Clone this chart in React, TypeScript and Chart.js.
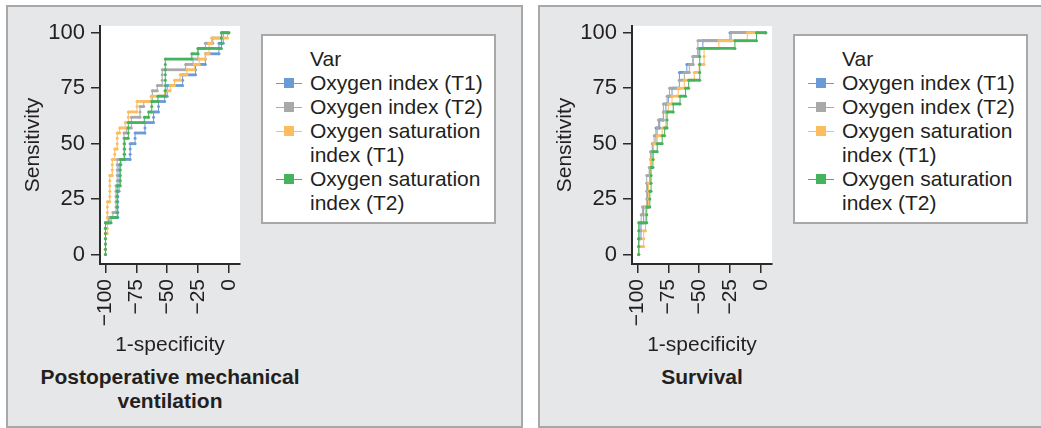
import React, { useEffect, useRef } from 'react';
import { Chart, registerables } from 'chart.js';

Chart.register(...registerables);

const FONT = "'Liberation Sans', Arial, Helvetica, sans-serif";
const TEXT = '#231f20';
const AXIS = '#2b2b2b';

const seriesNames = ['Oxygen index (T1)', 'Oxygen index (T2)', 'Oxygen saturation index (T1)', 'Oxygen saturation index (T2)'];
const legendLines = [['Oxygen index (T1)'], ['Oxygen index (T2)'], ['Oxygen saturation', 'index (T1)'], ['Oxygen saturation', 'index (T2)']];
const legendTitle = 'Var';
const seriesColors = ['#6b9bd6', '#a8a9ab', '#fcbd5e', '#45b35b'];
const xTickValues = [-100, -75, -50, -25, 0];
const yTickValues = [0, 25, 50, 75, 100];
const xAxisTitle = '1-specificity';
const yAxisTitle = 'Sensitivity';
const panelTitles = [['Postoperative mechanical', 'ventilation'], ['Survival']];

// Panel 1: Postoperative mechanical ventilation  ([x, sensitivity])
const ventOxygenIndexT1 = [
  [-100, 0], [-100, 2.4], [-100, 4.8], [-100, 7.1], [-100, 9.5], [-100, 11.9], [-100, 14.3],
  [-97.5, 14.3], [-97.5, 16.7],
  [-90, 16.7], [-90, 19.0], [-90, 21.4], [-90, 23.8], [-90, 26.2], [-90, 28.6],
  [-89, 28.6], [-89, 31.0], [-89, 33.3], [-89, 35.7], [-89, 38.1], [-89, 40.5],
  [-87.5, 40.5], [-87.5, 42.9],
  [-80, 42.9], [-80, 45.2], [-80, 47.6], [-80, 50.0],
  [-76, 50.0], [-76, 52.4], [-76, 54.8],
  [-68, 54.8], [-68, 57.1], [-68, 59.5],
  [-61, 59.5], [-61, 61.9], [-61, 64.3],
  [-57, 64.3], [-57, 66.7], [-57, 69.0],
  [-52, 69.0], [-52, 71.4],
  [-50, 71.4], [-50, 73.8], [-50, 76.2],
  [-37.5, 76.2], [-37.5, 78.6], [-37.5, 81.0],
  [-27, 81.0], [-27, 83.3], [-27, 85.7],
  [-19, 85.7], [-19, 88.1], [-19, 90.5],
  [-8, 90.5], [-8, 92.9], [-8, 95.2],
  [-4.5, 95.2], [-4.5, 97.6], [-4.5, 100],
  [0, 100],
];
const ventOxygenIndexT2 = [
  [-100, 0], [-100, 2.4], [-100, 4.8], [-100, 7.1], [-100, 9.5], [-100, 11.9], [-100, 14.3],
  [-97, 14.3], [-97, 16.7],
  [-94, 16.7], [-94, 19.0],
  [-91.5, 19.0], [-91.5, 21.4], [-91.5, 23.8], [-91.5, 26.2], [-91.5, 28.6], [-91.5, 31.0],
  [-90.5, 31.0], [-90.5, 33.3], [-90.5, 35.7], [-90.5, 38.1], [-90.5, 40.5], [-90.5, 42.9],
  [-85, 42.9], [-85, 45.2], [-85, 47.6], [-85, 50.0], [-85, 52.4], [-85, 54.8],
  [-83, 54.8], [-83, 57.1],
  [-79, 57.1], [-79, 59.5], [-79, 61.9],
  [-72, 61.9], [-72, 64.3], [-72, 66.7],
  [-69, 66.7], [-69, 69.0],
  [-62, 69.0], [-62, 71.4], [-62, 73.8],
  [-58, 73.8], [-58, 76.2],
  [-54, 76.2], [-54, 78.6], [-54, 81.0], [-54, 83.3],
  [-35, 83.3], [-35, 85.7],
  [-29, 85.7], [-29, 88.1],
  [-25, 88.1], [-25, 90.5], [-25, 92.9],
  [-19, 92.9], [-19, 95.2],
  [-13, 95.2], [-13, 97.6],
  [-6, 97.6], [-6, 100],
  [0, 100],
];
const ventSatIndexT1 = [
  [-100, 0], [-100, 2.4], [-100, 4.8], [-100, 7.1], [-100, 9.5],
  [-98.5, 9.5], [-98.5, 11.9], [-98.5, 14.3], [-98.5, 16.7], [-98.5, 19.0], [-98.5, 21.4], [-98.5, 23.8],
  [-96.5, 23.8], [-96.5, 26.2], [-96.5, 28.6], [-96.5, 31.0], [-96.5, 33.3], [-96.5, 35.7],
  [-94.5, 35.7], [-94.5, 38.1], [-94.5, 40.5], [-94.5, 42.9],
  [-92.5, 42.9], [-92.5, 45.2], [-92.5, 47.6],
  [-90.5, 47.6], [-90.5, 50.0], [-90.5, 52.4], [-90.5, 54.8],
  [-88.5, 54.8], [-88.5, 57.1],
  [-84, 57.1], [-84, 59.5],
  [-81.5, 59.5], [-81.5, 61.9], [-81.5, 64.3],
  [-74.5, 64.3], [-74.5, 66.7], [-74.5, 69.0],
  [-63, 69.0], [-63, 71.4],
  [-52, 71.4], [-52, 73.8],
  [-47.5, 73.8], [-47.5, 76.2],
  [-44, 76.2], [-44, 78.6],
  [-39.5, 78.6], [-39.5, 81.0],
  [-34, 81.0], [-34, 83.3],
  [-28, 83.3], [-28, 85.7],
  [-24, 85.7], [-24, 88.1],
  [-19, 88.1], [-19, 90.5],
  [-16, 90.5], [-16, 92.9], [-16, 95.2],
  [-14, 95.2], [-14, 97.6],
  [-1, 97.6], [-1, 100],
  [0, 100],
];
const ventSatIndexT2 = [
  [-100, 0], [-100, 2.4], [-100, 4.8], [-100, 7.1], [-100, 9.5], [-100, 11.9], [-100, 14.3],
  [-95.5, 14.3], [-95.5, 16.7],
  [-90.5, 16.7], [-90.5, 19.0], [-90.5, 21.4], [-90.5, 23.8], [-90.5, 26.2], [-90.5, 28.6], [-90.5, 31.0],
  [-88, 31.0], [-88, 33.3], [-88, 35.7], [-88, 38.1], [-88, 40.5], [-88, 42.9],
  [-84.5, 42.9], [-84.5, 45.2], [-84.5, 47.6], [-84.5, 50.0], [-84.5, 52.4],
  [-81.5, 52.4], [-81.5, 54.8], [-81.5, 57.1], [-81.5, 59.5],
  [-68.5, 59.5], [-68.5, 61.9],
  [-65, 61.9], [-65, 64.3],
  [-62.5, 64.3], [-62.5, 66.7], [-62.5, 69.0],
  [-57.5, 69.0], [-57.5, 71.4],
  [-51.5, 71.4], [-51.5, 73.8], [-51.5, 76.2], [-51.5, 78.6], [-51.5, 81.0], [-51.5, 83.3], [-51.5, 85.7], [-51.5, 88.1],
  [-30, 88.1], [-30, 90.5],
  [-25, 90.5], [-25, 92.9],
  [-6, 92.9], [-6, 95.2], [-6, 97.6], [-6, 100],
  [0, 100],
];

// Panel 2: Survival  ([x, sensitivity])
const survOxygenIndexT1 = [
  [-99, 0], [-99, 3.6], [-99, 7.1],
  [-98, 7.1], [-98, 10.7], [-98, 14.3],
  [-95, 14.3], [-95, 17.9], [-95, 21.4],
  [-92, 21.4], [-92, 25.0], [-92, 28.6], [-92, 32.1],
  [-90, 32.1], [-90, 35.7], [-90, 39.3],
  [-89, 39.3], [-89, 42.9], [-89, 46.4],
  [-87.5, 46.4], [-87.5, 50.0],
  [-85, 50.0], [-85, 53.6], [-85, 57.1],
  [-82, 57.1], [-82, 60.7],
  [-79, 60.7], [-79, 64.3],
  [-77, 64.3], [-77, 67.9],
  [-75, 67.9], [-75, 71.4],
  [-72, 71.4], [-72, 75.0],
  [-66, 75.0], [-66, 78.6], [-66, 82.1],
  [-60, 82.1], [-60, 85.7],
  [-55, 85.7], [-55, 89.3],
  [-51, 89.3], [-51, 92.9],
  [-47, 92.9], [-47, 96.4],
  [-25, 96.4], [-25, 100],
  [4, 100],
];
const survOxygenIndexT2 = [
  [-99, 0], [-99, 3.6], [-99, 7.1],
  [-97, 7.1], [-97, 10.7], [-97, 14.3], [-97, 17.9],
  [-96, 17.9], [-96, 21.4],
  [-92.5, 21.4], [-92.5, 25.0], [-92.5, 28.6], [-92.5, 32.1], [-92.5, 35.7],
  [-90.5, 35.7], [-90.5, 39.3],
  [-89.5, 39.3], [-89.5, 42.9], [-89.5, 46.4],
  [-88, 46.4], [-88, 50.0],
  [-86.5, 50.0], [-86.5, 53.6],
  [-84, 53.6], [-84, 57.1],
  [-83, 57.1], [-83, 60.7],
  [-79, 60.7], [-79, 64.3], [-79, 67.9],
  [-76, 67.9], [-76, 71.4],
  [-74, 71.4], [-74, 75.0],
  [-66, 75.0], [-66, 78.6],
  [-62, 78.6], [-62, 82.1],
  [-58, 82.1], [-58, 85.7],
  [-55, 85.7], [-55, 89.3],
  [-51, 89.3], [-51, 92.9], [-51, 96.4],
  [-24, 96.4], [-24, 100],
  [4, 100],
];
const survSatIndexT1 = [
  [-99, 0], [-99, 3.6],
  [-95, 3.6], [-95, 7.1], [-95, 10.7],
  [-93.5, 10.7], [-93.5, 14.3], [-93.5, 17.9], [-93.5, 21.4],
  [-91, 21.4], [-91, 25.0], [-91, 28.6], [-91, 32.1],
  [-89.5, 32.1], [-89.5, 35.7], [-89.5, 39.3], [-89.5, 42.9],
  [-87, 42.9], [-87, 46.4], [-87, 50.0],
  [-84, 50.0], [-84, 53.6],
  [-80, 53.6], [-80, 57.1],
  [-77, 57.1], [-77, 60.7], [-77, 64.3],
  [-75, 64.3], [-75, 67.9],
  [-72, 67.9], [-72, 71.4],
  [-67, 71.4], [-67, 75.0],
  [-62, 75.0], [-62, 78.6],
  [-54, 78.6], [-54, 82.1],
  [-50, 82.1], [-50, 85.7],
  [-46, 85.7], [-46, 89.3], [-46, 92.9],
  [-34, 92.9], [-34, 96.4],
  [-11, 96.4], [-11, 100],
  [4, 100],
];
const survSatIndexT2 = [
  [-99, 0], [-99, 3.6], [-99, 7.1], [-99, 10.7], [-99, 14.3],
  [-92.5, 14.3], [-92.5, 17.9], [-92.5, 21.4],
  [-90, 21.4], [-90, 25.0], [-90, 28.6],
  [-89, 28.6], [-89, 32.1], [-89, 35.7], [-89, 39.3],
  [-87.5, 39.3], [-87.5, 42.9], [-87.5, 46.4],
  [-84, 46.4], [-84, 50.0],
  [-80, 50.0], [-80, 53.6],
  [-78, 53.6], [-78, 57.1],
  [-76, 57.1], [-76, 60.7], [-76, 64.3],
  [-71, 64.3], [-71, 67.9],
  [-65.5, 67.9], [-65.5, 71.4],
  [-61, 71.4], [-61, 75.0],
  [-58.5, 75.0], [-58.5, 78.6],
  [-49.5, 78.6], [-49.5, 82.1], [-49.5, 85.7], [-49.5, 89.3], [-49.5, 92.9],
  [-21, 92.9], [-21, 96.4],
  [-3.5, 96.4], [-3.5, 100],
  [4, 100],
];

const panelSeries = [
  [ventOxygenIndexT1, ventOxygenIndexT2, ventSatIndexT1, ventSatIndexT2],
  [survOxygenIndexT1, survOxygenIndexT2, survSatIndexT1, survSatIndexT2],
];

const fmtTick = (v: number) => (v < 0 ? '\u2212' + Math.abs(v) : String(v));

const whiteArea = {
  id: 'whiteArea',
  beforeDraw(chart: any) {
    const { ctx, chartArea: a } = chart;
    ctx.save();
    ctx.fillStyle = '#ffffff';
    ctx.fillRect(a.left, a.top, a.right - a.left, a.bottom - a.top);
    ctx.restore();
  },
};

function RocChart({ series, left }: { series: number[][][]; left: number }) {
  const ref = useRef<HTMLCanvasElement>(null);
  useEffect(() => {
    const chart = new Chart(ref.current as HTMLCanvasElement, {
      type: 'scatter',
      data: {
        datasets: series.map((pts, i) => ({
          label: seriesNames[i],
          data: pts.map(([x, y]) => ({ x, y })),
          showLine: true,
          borderColor: seriesColors[i],
          backgroundColor: seriesColors[i],
          pointBackgroundColor: seriesColors[i],
          pointBorderWidth: 0,
          pointRadius: 1.5,
          pointHoverRadius: 1.5,
          borderWidth: 1,
          order: 3 - i,
          segment: {
            borderWidth: (c: any) => (c.p0.parsed.y === c.p1.parsed.y ? 2.8 : 1),
          },
        })),
      } as any,
      options: {
        animation: false,
        responsive: false,
        events: [],
        layout: { padding: { top: 16, right: 10, left: 0, bottom: 0 } },
        plugins: { legend: { display: false }, tooltip: { enabled: false } },
        scales: {
          x: {
            type: 'linear',
            min: -104.46,
            max: 9.08,
            afterBuildTicks: (s: any) => {
              s.ticks = xTickValues.map((v) => ({ value: v }));
            },
            afterFit: (s: any) => {
              s.height = 96;
              s.paddingLeft = 0;
              s.paddingRight = 0;
            },
            ticks: {
              autoSkip: false,
              minRotation: 90,
              maxRotation: 90,
              padding: 6,
              color: TEXT,
              font: { family: FONT, size: 21 },
              callback: (v: any) => fmtTick(Number(v)),
            },
            grid: { drawOnChartArea: false, drawTicks: true, tickLength: 9, color: AXIS, lineWidth: 1.5 },
            border: { display: true, color: AXIS, width: 2 },
            title: {
              display: true,
              text: xAxisTitle,
              color: TEXT,
              font: { family: FONT, size: 21 },
              padding: { top: 0, bottom: 2 },
            },
          },
          y: {
            type: 'linear',
            min: -4.24,
            max: 103.02,
            afterBuildTicks: (s: any) => {
              s.ticks = yTickValues.map((v) => ({ value: v }));
            },
            afterFit: (s: any) => {
              s.width = 90;
              s.paddingTop = 0;
              s.paddingBottom = 0;
            },
            ticks: {
              autoSkip: false,
              padding: 6,
              color: TEXT,
              font: { family: FONT, size: 22 },
              callback: (v: any) => fmtTick(Number(v)),
            },
            grid: { drawOnChartArea: false, drawTicks: true, tickLength: 9, color: AXIS, lineWidth: 1.5 },
            border: { display: true, color: AXIS, width: 2 },
            title: {
              display: true,
              text: yAxisTitle,
              color: TEXT,
              font: { family: FONT, size: 21 },
              padding: { top: 11, bottom: 0 },
            },
          },
        },
      } as any,
      plugins: [whiteArea],
    });
    return () => chart.destroy();
  }, [series]);
  return (
    <canvas
      ref={ref}
      width={240}
      height={350}
      style={{ position: 'absolute', left, top: 10, width: 240, height: 350 }}
    />
  );
}

function Legend({ dx }: { dx: number }) {
  const rows: { text: string; marker: number | null }[] = [{ text: legendTitle, marker: null }];
  legendLines.forEach((lines, i) => lines.forEach((t, j) => rows.push({ text: t, marker: j === 0 ? i : null })));
  return (
    <>
      <div
        style={{
          position: 'absolute', left: 261 + dx, top: 34, width: 235, height: 190,
          background: '#fff', border: '2px solid #a8a8a8', boxSizing: 'border-box',
        }}
      />
      {rows.map((r, k) => {
        const cy = 59.3 + k * 24;
        return (
          <React.Fragment key={k}>
            {r.marker !== null && (
              <>
                <div style={{ position: 'absolute', left: 276 + dx, top: cy - 0.75, width: 26, height: 1.5, background: seriesColors[r.marker] }} />
                <div style={{ position: 'absolute', left: 284 + dx, top: cy - 5, width: 10, height: 10, background: seriesColors[r.marker] }} />
              </>
            )}
            <div
              style={{
                position: 'absolute', left: 310 + dx, top: cy - 12, height: 24, lineHeight: '24px',
                fontSize: 21, fontFamily: FONT, color: TEXT, whiteSpace: 'nowrap',
              }}
            >
              {r.text}
            </div>
          </React.Fragment>
        );
      })}
    </>
  );
}

export default function App() {
  return (
    <div style={{ position: 'absolute', left: 0, top: 0, width: 1041, height: 428, background: '#fff', overflow: 'hidden' }}>
      {[0, 1].map((p) => {
        const dx = p * 532;
        return (
          <React.Fragment key={p}>
            <div
              style={{
                position: 'absolute', left: 6 + dx, top: 5, width: 517, height: 423,
                background: '#e6e7e8', border: '2px solid #a8a8a8', boxSizing: 'border-box',
              }}
            />
            <RocChart series={panelSeries[p]} left={10 + dx} />
            <Legend dx={dx} />
            <div
              style={{
                position: 'absolute', left: dx, top: 365, width: 340, textAlign: 'center',
                fontFamily: FONT, fontWeight: 'bold', fontSize: 21, lineHeight: '24px', color: TEXT,
              }}
            >
              {panelTitles[p].map((t, i) => (
                <div key={i}>{t}</div>
              ))}
            </div>
          </React.Fragment>
        );
      })}
    </div>
  );
}
